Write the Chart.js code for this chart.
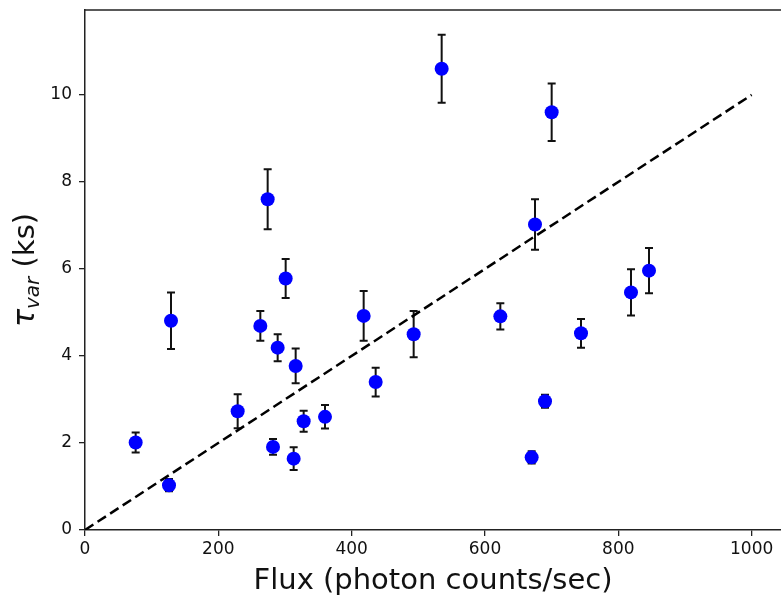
<!DOCTYPE html>
<html>
<head>
<meta charset="utf-8">
<script src="https://cdn.jsdelivr.net/npm/chart.js@4.4.1/dist/chart.umd.min.js"></script>
<style>
  html, body { margin: 0; padding: 0; background: #fff; }
  #wrap { width: 781px; height: 599px; }
</style>
</head>
<body>
<div id="wrap"><canvas id="tauChart" width="781" height="599"></canvas></div>
<script>
// flux (photon counts/sec) and variability timescale (ks) with 1-sigma errors
const flux   = [76, 126, 129, 229, 263, 274, 282, 289, 301, 313, 316, 328, 360,
                418, 436, 493, 535, 623, 670, 675, 690, 700, 744, 819, 846];
const tauVar = [2.01, 1.03, 4.81, 2.73, 4.69, 7.60, 1.91, 4.19, 5.78, 1.64, 3.77, 2.50, 2.60,
                4.92, 3.40, 4.50, 10.60, 4.91, 1.67, 7.02, 2.96, 9.60, 4.52, 5.46, 5.96];
const tauErr = [0.23, 0.14, 0.65, 0.39, 0.34, 0.69, 0.18, 0.31, 0.45, 0.26, 0.40, 0.24, 0.27,
                0.57, 0.33, 0.53, 0.78, 0.30, 0.14, 0.58, 0.15, 0.66, 0.33, 0.53, 0.52];

// one-to-one reference line
const lineX = [0, 1000];
const lineY = [0, 10];

const xTicks = [0, 200, 400, 600, 800, 1000];
const yTicks = [0, 2, 4, 6, 8, 10];

const FONT = '"DejaVu Sans", Verdana, sans-serif';

const errorBars = {
  id: 'errorBars',
  beforeDatasetsDraw(chart) {
    const ctx = chart.ctx;
    const xs = chart.scales.x, ys = chart.scales.y;
    ctx.save();
    ctx.strokeStyle = '#111';
    ctx.lineWidth = 2;
    for (let i = 0; i < flux.length; i++) {
      const px = xs.getPixelForValue(flux[i]);
      const top = ys.getPixelForValue(tauVar[i] + tauErr[i]);
      const bot = ys.getPixelForValue(tauVar[i] - tauErr[i]);
      ctx.beginPath();
      ctx.moveTo(px, top); ctx.lineTo(px, bot);
      ctx.moveTo(px - 4, top); ctx.lineTo(px + 4, top);
      ctx.moveTo(px - 4, bot); ctx.lineTo(px + 4, bot);
      ctx.stroke();
    }
    ctx.restore();
  }
};

const frame = {
  id: 'frame',
  afterDraw(chart) {
    const ctx = chart.ctx;
    const a = chart.chartArea;
    ctx.save();
    ctx.strokeStyle = '#222';
    ctx.lineWidth = 1.5;
    ctx.beginPath();
    ctx.moveTo(a.left, a.top); ctx.lineTo(a.right, a.top);
    ctx.stroke();

    // y title: tau with subscript "var"
    ctx.translate(34, (a.top + a.bottom) / 2);
    ctx.rotate(-Math.PI / 2);
    ctx.fillStyle = '#111';
    ctx.textBaseline = 'alphabetic';
    ctx.textAlign = 'left';
    const tauFont = 'oblique 30px ' + FONT;
    const subFont = 'oblique 20px ' + FONT;
    const restFont = '29px ' + FONT;
    ctx.font = tauFont; const w1 = ctx.measureText('τ').width;
    ctx.font = subFont; const w2 = ctx.measureText('var').width;
    ctx.font = restFont; const w3 = ctx.measureText(' (ks)').width;
    let x0 = -(w1 + w2 + w3) / 2;
    ctx.font = tauFont; ctx.fillText('τ', x0, 0); x0 += w1;
    ctx.font = subFont; ctx.fillText('var', x0, 5); x0 += w2;
    ctx.font = restFont; ctx.fillText(' (ks)', x0, 0);
    ctx.restore();
  }
};

new Chart(document.getElementById('tauChart').getContext('2d'), {
  type: 'scatter',
  data: {
    datasets: [{
      label: 'data',
      data: flux.map((f, i) => ({ x: f, y: tauVar[i] })),
      backgroundColor: '#0000ff',
      borderColor: '#0000ff',
      borderWidth: 0,
      pointRadius: 7,
      order: 1
    }, {
      type: 'line',
      label: 'one-to-one',
      data: lineX.map((v, i) => ({ x: v, y: lineY[i] })),
      borderColor: '#000',
      borderWidth: 2.5,
      borderDash: [10, 5],
      pointRadius: 0,
      fill: false,
      order: 2
    }]
  },
  options: {
    responsive: false,
    animation: false,
    devicePixelRatio: 1,
    layout: { autoPadding: false, padding: { top: 10, left: 0, right: 0, bottom: 0 } },
    plugins: {
      legend: { display: false },
      tooltip: { enabled: false }
    },
    scales: {
      x: {
        type: 'linear',
        min: 0,
        max: 1044,
        afterFit: s => { s.height = 69; s.paddingLeft = 0; s.paddingRight = 0; },
        afterBuildTicks: s => { s.ticks = xTicks.map(v => ({ value: v })); },
        grid: { drawOnChartArea: false, drawTicks: true, tickLength: 6, color: '#222', lineWidth: 1.3 },
        border: { display: true, color: '#222', width: 1.5 },
        ticks: { color: '#111', font: { family: FONT, size: 17 }, padding: 3, maxRotation: 0,
                 callback: v => String(v) },
        title: {
          display: true,
          text: 'Flux (photon counts/sec)',
          color: '#111',
          font: { family: FONT, size: 29 },
          padding: { top: 0, bottom: 0 }
        }
      },
      y: {
        type: 'linear',
        min: 0,
        max: 11.95,
        afterFit: s => { s.width = 85; s.paddingTop = 0; s.paddingBottom = 0; },
        afterBuildTicks: s => { s.ticks = yTicks.map(v => ({ value: v })); },
        grid: { drawOnChartArea: false, drawTicks: true, tickLength: 6, color: '#222', lineWidth: 1.3 },
        border: { display: true, color: '#222', width: 1.5 },
        ticks: { color: '#111', font: { family: FONT, size: 17 }, padding: 7,
                 callback: v => String(v) }
      }
    }
  },
  plugins: [errorBars, frame]
});
</script>
</body>
</html>
